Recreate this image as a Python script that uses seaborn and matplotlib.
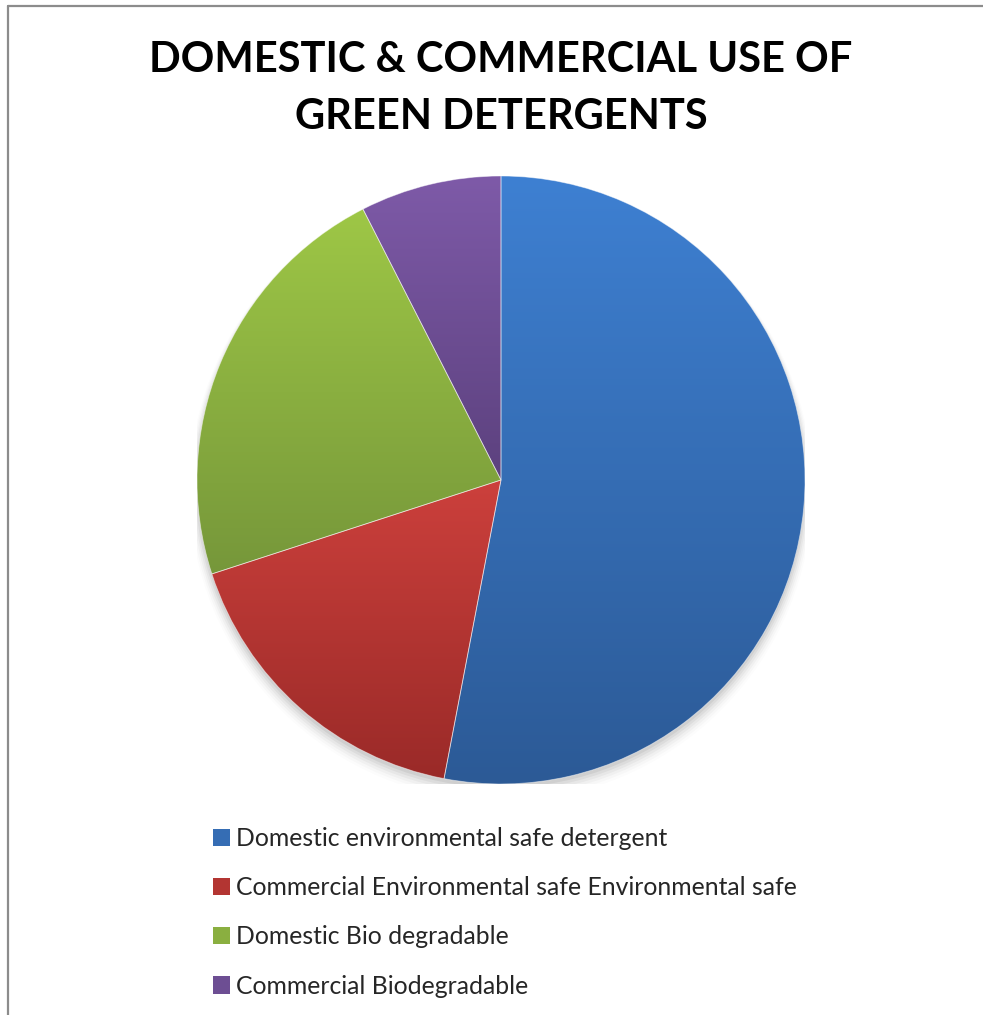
import numpy as np
import matplotlib
matplotlib.use('Agg')
import matplotlib.pyplot as plt
from matplotlib.patches import Patch, Ellipse
from matplotlib.lines import Line2D
import seaborn as sns

# данные
labels = ['Domestic environmental safe detergent',
          'Commercial Environmental safe Environmental safe',
          'Domestic Bio degradable',
          'Commercial Biodegradable']
values = [53, 17, 22.5, 7.5]
title = 'DOMESTIC & COMMERCIAL USE OF\nGREEN DETERGENTS'

# цвета: верх / низ градиента
top_colors = ['#3e80d2', '#cc403c', '#9ec746', '#7e5aa8']
bottom_colors = ['#2c5a96', '#9a2a28', '#76973a', '#5c417e']

sns.set_theme(style='white')
plt.rcParams['font.family'] = ['Lato', 'DejaVu Sans']

W, H = 983, 1015
fig = plt.figure(figsize=(W / 100, H / 100), dpi=100)

cx, cy, r = 501, 480, 304
ax = fig.add_axes([(cx - r) / W, (H - cy - r) / H, 2 * r / W, 2 * r / H])

# мягкая тень под кругом
for i, a in enumerate(np.linspace(0.05, 0.01, 6)):
    ax.add_patch(Ellipse((0, -0.012 - 0.004 * i), 2 + 0.01 * i, 2 + 0.01 * i,
                         color='black', alpha=a, lw=0, zorder=0))

wedges, _ = ax.pie(values, startangle=90, counterclock=False, radius=1,
                   wedgeprops=dict(linewidth=0.6, edgecolor=(1, 1, 1, 0.5)))

grad = np.linspace(0, 1, 256).reshape(-1, 1)
for w, c_top, c_bot in zip(wedges, top_colors, bottom_colors):
    ext = w.get_path().get_extents()
    cmap = sns.blend_palette([c_bot, c_top], as_cmap=True)
    im = ax.imshow(grad, cmap=cmap, origin='lower', aspect='auto',
                   extent=[ext.x0, ext.x1, ext.y0, ext.y1], zorder=1)
    im.set_clip_path(w)
    w.set_facecolor('none')
    w.set_zorder(2)

ax.set_xlim(-1, 1)
ax.set_ylim(-1, 1)
ax.set_aspect('auto')
ax.axis('off')

fig.text(cx / W, 1 - 41 / H, title, ha='center', va='top',
         fontsize=30, fontweight='bold', color='black', linespacing=1.6)

mid_colors = [sns.blend_palette([b, t], 3)[1] for t, b in zip(top_colors, bottom_colors)]
handles = [Patch(facecolor=c, edgecolor='none') for c in mid_colors]
fig.legend(handles, labels, loc='upper left', bbox_to_anchor=(213 / W, 1 - 827 / H),
           frameon=False, fontsize=17.8, handlelength=0.7, handleheight=0.7,
           handletextpad=0.25, labelspacing=1.06, borderpad=0, borderaxespad=0)

# рамка области диаграммы
fig.add_artist(Line2D([7.5 / W, 7.5 / W], [0, 1 - 6 / H], color='#8c8c8c', lw=1.6))
fig.add_artist(Line2D([7.5 / W, 1], [1 - 6 / H, 1 - 6 / H], color='#8c8c8c', lw=1.6))

fig.savefig('out.png', dpi=100, facecolor='white')
